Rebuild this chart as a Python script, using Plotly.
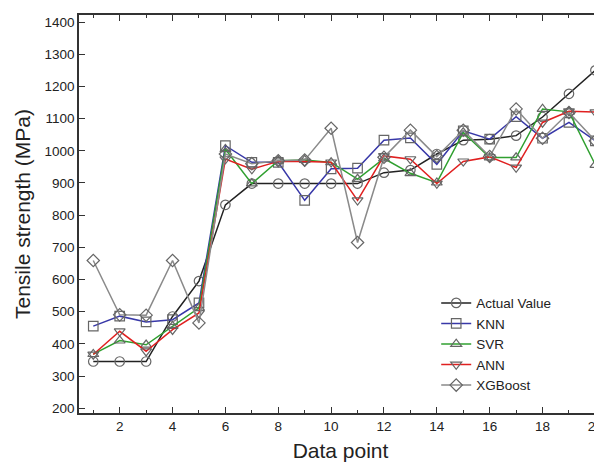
import plotly.graph_objects as go

x = list(range(1, 21))
actual = [345, 345, 345, 485, 595, 832, 898, 898, 898, 898, 898, 932, 940, 990, 1033, 1036, 1047, 1105, 1177, 1250]
knn = [455, 486, 468, 475, 527, 1016, 964, 964, 846, 944, 946, 1033, 1040, 958, 1062, 1036, 1106, 1039, 1088, 1031]
svr = [368, 410, 397, 455, 512, 1005, 898, 969, 971, 964, 912, 976, 930, 901, 1057, 979, 979, 1130, 1121, 956]
ann = [367, 439, 377, 444, 496, 974, 943, 967, 967, 964, 846, 984, 974, 898, 967, 981, 948, 1088, 1123, 1120]
xgb = [659, 490, 489, 659, 465, 990, 960, 969, 971, 1070, 715, 980, 1064, 982, 1064, 982, 1130, 1039, 1119, 1031]

series = [
    ("Actual Value", actual, "#222222", "circle-open"),
    ("KNN", knn, "#3838a8", "square-open"),
    ("SVR", svr, "#30a030", "triangle-up-open"),
    ("ANN", ann, "#e02020", "triangle-down-open"),
    ("XGBoost", xgb, "#8a8a8a", "diamond-open"),
]

fig = go.Figure()
for name, ys, col, sym in series:
    fig.add_trace(go.Scatter(
        x=x, y=ys, name=name, mode="lines+markers",
        line=dict(color=col, width=1.5),
        marker=dict(symbol=sym, size=9.5, color="#666666", line=dict(width=1.2, color="#666666")),
    ))

font = "Liberation Sans, Arial, sans-serif"
fig.update_layout(
    width=594, height=459,
    margin=dict(l=71, r=0, t=7, b=54),
    paper_bgcolor="white", plot_bgcolor="white",
    font=dict(family=font, color="#222222"),
    legend=dict(x=0.683, y=0.315, xanchor="left", yanchor="top",
                bgcolor="rgba(0,0,0,0)", font=dict(size=13.5, color="#222222"),
                tracegroupgap=0, itemwidth=30),
    showlegend=True,
)
fig.update_xaxes(
    range=[0.46, 20.25], tickmode="array", tickvals=list(range(2, 21, 2)),
    ticks="inside", ticklen=6, tickwidth=1.3, tickcolor="#333",
    minor=dict(tickvals=list(range(1, 21, 2)), ticks="inside", ticklen=3, tickwidth=1, tickcolor="#333"),
    showline=True, linecolor="#333", linewidth=1.5, mirror="allticks",
    showgrid=False, zeroline=False, automargin=False, ticklabeloverflow="allow",
    tickfont=dict(size=13.5),
    title=dict(text="Data point", font=dict(size=21), standoff=10),
)
fig.update_yaxes(
    range=[185, 1422], tickmode="array", tickvals=list(range(200, 1401, 100)),
    ticks="inside", ticklen=6, tickwidth=1.3, tickcolor="#333",
    showline=True, linecolor="#333", linewidth=1.5, mirror="allticks",
    showgrid=False, zeroline=False, automargin=False,
    tickfont=dict(size=13.5),
    title=dict(text="Tensile strength (MPa)", font=dict(size=21), standoff=8),
)
fig.write_html("out.html")
